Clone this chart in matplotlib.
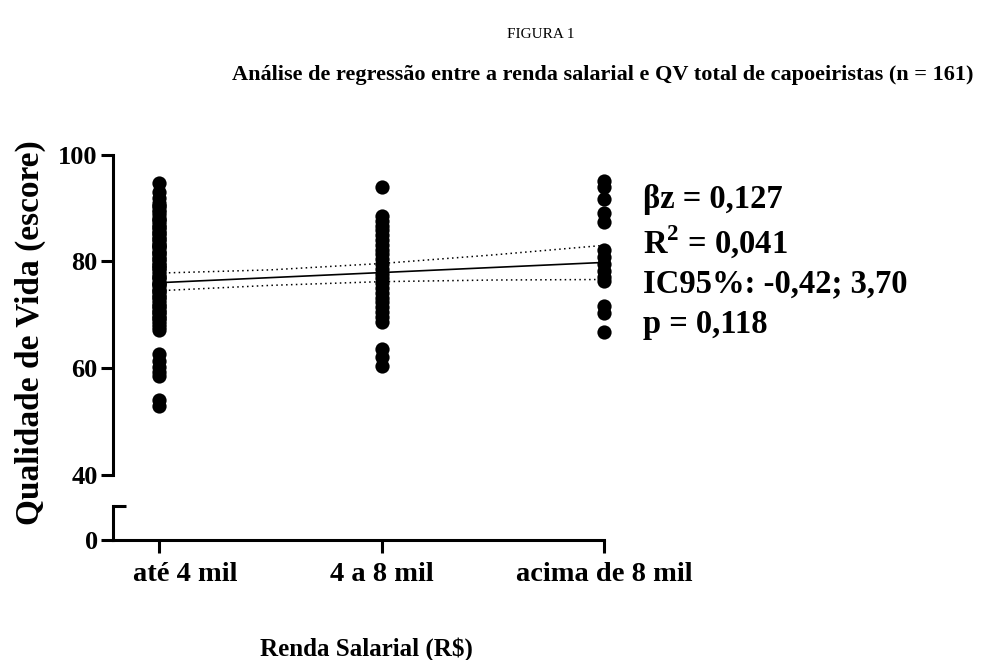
import matplotlib
matplotlib.use("Agg")
import matplotlib.pyplot as plt
import matplotlib.transforms as mtransforms

# Data
categories = ["até 4 mil", "4 a 8 mil", "acima de 8 mil"]

qv_ate4 = [94.6, 93.0, 91.8, 91.0, 90.4, 89.7, 89.2, 88.6, 88.0, 87.5, 87.0,
           86.4, 85.9, 85.3, 84.8, 84.2, 83.7, 83.1, 82.6, 82.0, 81.5, 81.0,
           80.4, 79.9, 79.3, 78.8, 78.2, 77.7, 77.1, 76.6, 76.0, 75.5, 74.9,
           74.4, 73.8, 73.3, 72.7, 72.2, 71.6, 71.1, 70.5, 70.0, 69.4, 68.9,
           68.3, 67.8, 67.2, 62.6, 61.4, 60.3, 59.2, 58.6, 54.0, 53.0,
           85.3, 80.4, 76.0, 78.8, 82.6, 74.4, 70.5, 88.0, 84.2,
           77.1, 73.3, 81.5, 79.3, 75.5, 71.6, 69.4, 86.4, 83.1, 90.4]
qv_4a8 = [93.9, 88.5, 87.6, 86.7, 85.8, 84.9, 84.0, 83.1, 82.2, 81.3, 80.4,
          79.5, 78.6, 77.7, 76.8, 75.9, 75.0, 74.1, 73.2, 72.3, 71.4, 70.5,
          69.6, 68.7, 63.6, 62.0, 60.4]
qv_acima8 = [95.0, 94.0, 91.7, 89.0, 87.4, 82.1, 80.8, 79.5, 78.2, 77.0,
             76.4, 71.7, 70.3, 66.8]

reg_x = [1, 3]
reg_y = [76.0, 79.8]
ci_x = [1, 1.5, 2, 2.5, 3]
ci_upper = [77.8, 78.4, 79.6, 81.2, 83.0]
ci_lower = [74.5, 75.5, 76.2, 76.5, 76.6]

stats_lines = ["βz = 0,127", r"R$^{\mathbf{2}}$ = 0,041",
               "IC95%: -0,42; 3,70", "p = 0,118"]

plt.rcParams['font.family'] = ['Liberation Serif', 'DejaVu Serif']
plt.rcParams['font.weight'] = 'bold'
plt.rcParams['mathtext.fontset'] = 'custom'
plt.rcParams['mathtext.rm'] = 'Liberation Serif:bold'
plt.rcParams['mathtext.bf'] = 'Liberation Serif:bold'

W, H = 984, 660
fig = plt.figure(figsize=(W / 100, H / 100), dpi=100)


def px_box(left, top, right, bottom):
    return [left / W, 1 - bottom / H, (right - left) / W, (bottom - top) / H]


xmin, xmax = 0.793, 3.16
spine_w = 2.2

# upper part of the broken axis (40-100)
ax = fig.add_axes(px_box(113, 154.5, 640, 475))
ax.set_xlim(xmin, xmax)
ax.set_ylim(40, 100)
ax.set_yticks([40, 60, 80, 100])
ax.set_xticks([])
for s in ['top', 'right', 'bottom']:
    ax.spines[s].set_visible(False)
ax.spines['left'].set_linewidth(spine_w)
ax.tick_params(axis='y', length=9, width=spine_w, labelsize=19, pad=2)
ax.patch.set_alpha(0)

groups = [qv_ate4, qv_4a8, qv_acima8]
for i, vals in enumerate(groups):
    ax.scatter([i + 1] * len(vals), vals, s=105, color='black',
               linewidths=0, zorder=3, clip_on=False)

ax.plot(reg_x, reg_y, color='black', lw=1.2, zorder=2)
ax.plot(ci_x, ci_upper, color='black', lw=1.1, ls=(0, (1, 2.2)), zorder=2)
ax.plot(ci_x, ci_lower, color='black', lw=1.1, ls=(0, (1, 2.2)), zorder=2)

# lower part of the broken axis (0)
axb = fig.add_axes(px_box(113, 506, 640, 540))
axb.set_xlim(xmin, xmax)
axb.set_ylim(0, 1)
axb.set_yticks([0])
axb.set_xticks([1, 2, 3])
axb.set_xticklabels(categories)
for s in ['top', 'right']:
    axb.spines[s].set_visible(False)
axb.spines['left'].set_linewidth(spine_w)
axb.spines['bottom'].set_linewidth(spine_w)
axb.spines['bottom'].set_bounds(xmin, 3)
axb.tick_params(axis='y', length=9, width=spine_w, labelsize=19, pad=2)
axb.tick_params(axis='x', length=9, width=spine_w, labelsize=20.5, pad=7)
axb.plot([xmin, xmin + 0.06], [1, 1], color='black', lw=spine_w,
         clip_on=False, solid_capstyle='butt')
axb.patch.set_alpha(0)

# first category label sits a bit right of its tick in the original
first_lbl = axb.get_xticklabels()[0]
shift = mtransforms.ScaledTranslation(26 / 100, 0, fig.dpi_scale_trans)
first_lbl.set_transform(first_lbl.get_transform() + shift)

# stats annotation
stats_y = [200, 242, 284, 324]
for line, yp in zip(stats_lines, stats_y):
    fig.text(643 / W, 1 - yp / H, line, fontsize=23.5,
             fontweight='bold', va='center', ha='left')

fig.text(30 / W, 1 - 333 / H, "Qualidade de Vida (escore)", rotation=90,
         fontsize=24, fontweight='bold', ha='center', va='center')
fig.text(366 / W, 1 - 649 / H, r"Renda Salarial (R\$)", fontsize=18,
         fontweight='bold', ha='center', va='center')

fig.text(541 / W, 1 - 34 / H, "FIGURA 1", fontsize=11, fontweight='normal',
         ha='center', va='center')
fig.text(603 / W, 1 - 75 / H,
         "Análise de regressão entre a renda salarial e QV total de capoeiristas (n = 161)",
         fontsize=16, fontweight='bold', ha='center', va='center')

fig.savefig("out.png", dpi=100)
